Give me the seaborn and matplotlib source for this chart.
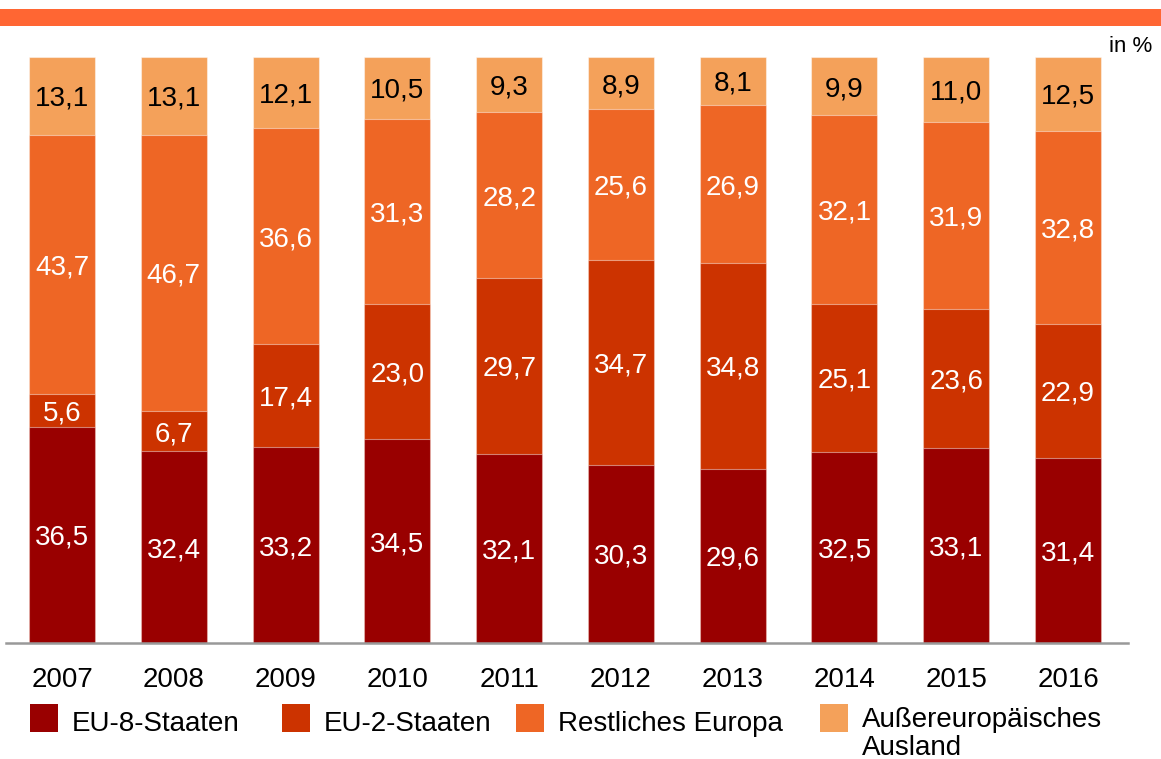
import numpy as np
import pandas as pd
import seaborn as sns
import matplotlib.pyplot as plt
from matplotlib.patches import Rectangle

# Data (shares in %)
years = ['2007', '2008', '2009', '2010', '2011', '2012', '2013', '2014', '2015', '2016']
eu8 = [36.5, 32.4, 33.2, 34.5, 32.1, 30.3, 29.6, 32.5, 33.1, 31.4]
eu2 = [5.6, 6.7, 17.4, 23.0, 29.7, 34.7, 34.8, 25.1, 23.6, 22.9]
rest_europa = [43.7, 46.7, 36.6, 31.3, 28.2, 25.6, 26.9, 32.1, 31.9, 32.8]
ausland = [13.1, 13.1, 12.1, 10.5, 9.3, 8.9, 8.1, 9.9, 11.0, 12.5]

series_names = ['EU-8-Staaten', 'EU-2-Staaten', 'Restliches Europa', 'Außereuropäisches\nAusland']
colors = ['#990000', '#CC3300', '#EE6625', '#F4A15A']
label_colors = ['white', 'white', 'white', 'black']

sns.set_theme(style='white')
plt.rcParams['font.family'] = ['Liberation Sans', 'DejaVu Sans']
plt.rcParams['text.color'] = 'black'

df = pd.DataFrame({'Jahr': years, 'EU8': eu8, 'EU2': eu2, 'Rest': rest_europa, 'Aus': ausland})
cols = ['EU8', 'EU2', 'Rest', 'Aus']
# bars in the chart are drawn as 100 % stacks
total = df[cols].sum(axis=1)
scaled = df[cols].div(total, axis=0) * 100
cum = scaled.cumsum(axis=1)

W, H = 1161, 759
fig = plt.figure(figsize=(W / 100, H / 100), dpi=100)
ax = fig.add_axes([0.0052, 0.1528, 0.9664, 0.7721])

# draw cumulative layers from the top down so each segment shows
for col, color in reversed(list(zip(cols, colors))):
    sns.barplot(x=df['Jahr'], y=cum[col], color=color, width=0.59,
                edgecolor=(1, 1, 1, 0.45), linewidth=0.8, saturation=1, ax=ax)

# value labels
for i in range(len(years)):
    bottom = 0
    for col, lc in zip(cols, label_colors):
        h = scaled.loc[i, col]
        txt = f"{df.loc[i, col]:.1f}".replace('.', ',')
        ax.text(i, bottom + h / 2, txt, ha='center', va='center_baseline',
                fontsize=20, color=lc)
        bottom += h

ax.set_ylim(0, 100)
ax.set_xlim(-0.501, 9.537)
ax.set_xlabel('')
ax.set_ylabel('')
ax.set_yticks([])
ax.tick_params(axis='x', length=0, pad=17, labelsize=20, colors='black')
for s in ['top', 'left', 'right']:
    ax.spines[s].set_visible(False)
ax.spines['bottom'].set_color('#999999')
ax.spines['bottom'].set_linewidth(1.8)

# orange band at the top
fig.patches.append(Rectangle((0, 1 - 26 / H), 1, 17 / H, transform=fig.transFigure,
                             facecolor='#FF6633', edgecolor='none'))
fig.text(1152 / W, 1 - 47 / H, 'in %', ha='right', va='center', fontsize=16, color='black')

# legend, drawn by hand to match the uneven spacing
swatch_x = [30, 282, 516, 820]
for x0, name, c in zip(swatch_x, series_names, colors):
    fig.patches.append(Rectangle((x0 / W, 1 - 732 / H), 28 / W, 28 / H,
                                 transform=fig.transFigure, facecolor=c, edgecolor='none'))
    lines = name.split('\n')
    base = 731 if len(lines) == 1 else 727
    for k, line in enumerate(lines):
        fig.text((x0 + 42) / W, 1 - (base + 28 * k) / H, line, ha='left',
                 va='baseline', fontsize=20, color='black')

fig.savefig('out.png', dpi=100)
